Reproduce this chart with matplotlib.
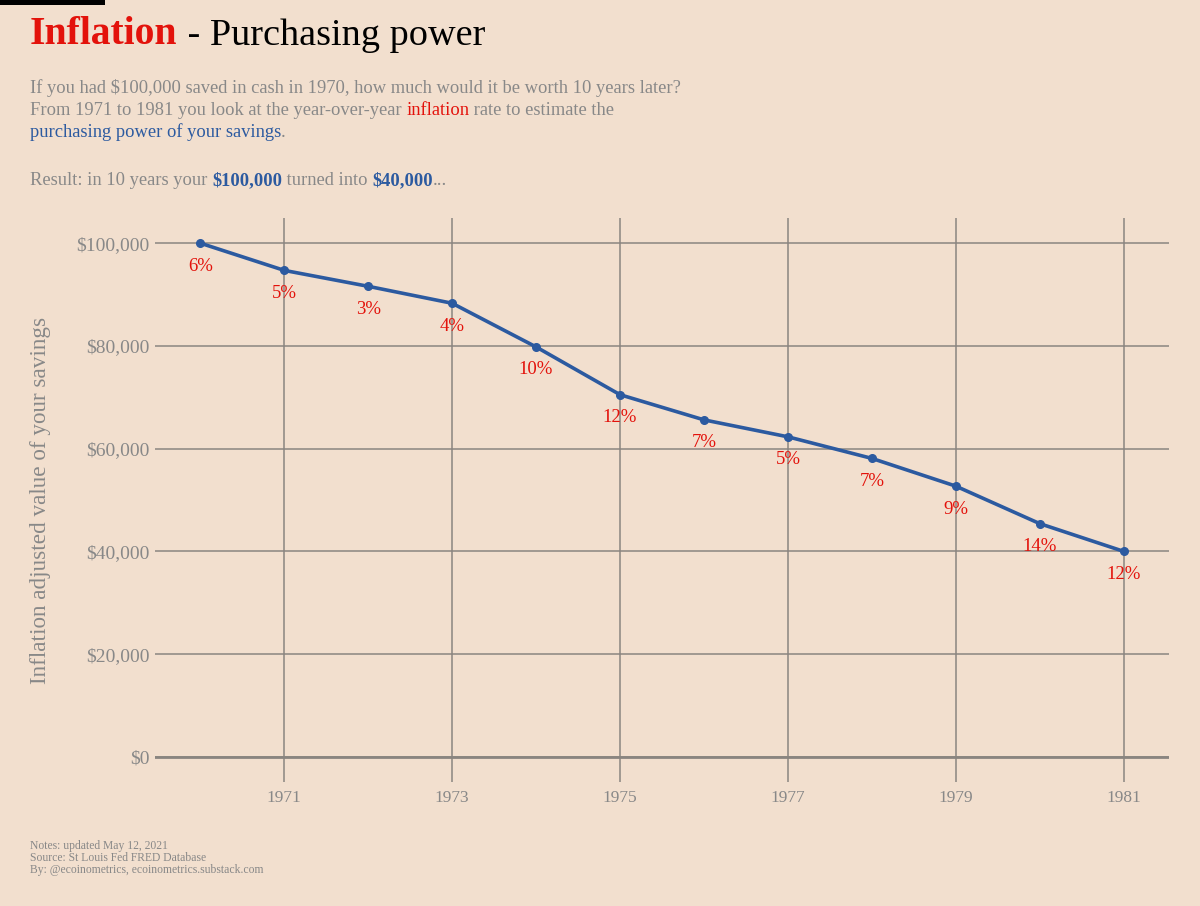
import matplotlib
matplotlib.use("Agg")
import matplotlib.pyplot as plt
from matplotlib.ticker import FuncFormatter

# ---- data ----
years = [1970, 1971, 1972, 1973, 1974, 1975, 1976, 1977, 1978, 1979, 1980, 1981]
savings_value = [100000, 94700, 91600, 88300, 79800, 70500, 65600, 62300, 58100, 52700, 45400, 40000]
inflation_labels = ['6%', '5%', '3%', '4%', '10%', '12%', '7%', '5%', '7%', '9%', '14%', '12%']
x_ticks = [1971, 1973, 1975, 1977, 1979, 1981]
y_ticks = [0, 20000, 40000, 60000, 80000, 100000]

# ---- style ----
BG = '#F2DFCE'
RED = '#E3120B'
BLUE = '#2C5AA0'
GRAY = '#888888'
GRID = '#8A8580'
FONT = 'Liberation Serif'
plt.rcParams['font.family'] = [FONT, 'DejaVu Serif']

W, H = 1200, 906
fig = plt.figure(figsize=(W / 100, H / 100), dpi=100, facecolor=BG)
overlay = fig.add_axes([0, 0, 1, 1])
overlay.set_xlim(0, W)
overlay.set_ylim(H, 0)
overlay.axis('off')

# top-left black bar
overlay.add_patch(plt.Rectangle((0, 0), 105, 5, color='black', lw=0))


def rich(x, y, parts, size):
    """parts: list of (text, color, weight, size); drawn chained on one baseline."""
    s, c, w = parts[0][:3]
    sz = parts[0][3] if len(parts[0]) > 3 else size
    t = overlay.text(x, y, s, color=c, fontsize=sz, fontweight=w,
                     ha='left', va='baseline')
    for p in parts[1:]:
        s, c, w = p[:3]
        sz = p[3] if len(p) > 3 else size
        t = overlay.annotate(s, xy=(1, 0), xycoords=t, xytext=(0, 0),
                             textcoords='offset points', color=c,
                             fontsize=sz, fontweight=w, ha='left', va='bottom')
    return t


# title
rich(30, 44, [('Inflation', RED, 'bold', 28.5), (' - Purchasing power', 'black', 'normal', 27.5)], 27.5)

# subtitle
SUB = 13.3
rich(30, 93, [('If you had $100,000 saved in cash in 1970, how much would it be worth 10 years later?', GRAY, 'normal')], SUB)
rich(30, 115, [('From 1971 to 1981 you look at the year-over-year ', GRAY, 'normal'),
               ('inflation', RED, 'normal'),
               (' rate to estimate the', GRAY, 'normal')], SUB)
rich(30, 137, [('purchasing power of your savings', BLUE, 'normal'), ('.', GRAY, 'normal')], SUB)
rich(30, 185, [('Result: in 10 years your ', GRAY, 'normal'),
               ('$100,000', BLUE, 'bold'),
               (' turned into ', GRAY, 'normal'),
               ('$40,000', BLUE, 'bold'),
               ('...', GRAY, 'normal')], SUB)

# footer
FOOT = 8.4
overlay.text(30, 849, 'Notes: updated May 12, 2021', color=GRAY, fontsize=FOOT, va='baseline')
overlay.text(30, 861, 'Source: St Louis Fed FRED Database', color=GRAY, fontsize=FOOT, va='baseline')
overlay.text(30, 873, 'By: @ecoinometrics, ecoinometrics.substack.com', color=GRAY, fontsize=FOOT, va='baseline')

# y-axis label
overlay.text(41, 500, 'Inflation adjusted value of your savings', color=GRAY,
             fontsize=16.7, rotation=90, ha='center', va='center')

# ---- main axes ----
left, right, top, bottom = 155, 1169, 218, 782
ax = fig.add_axes([left / W, 1 - bottom / H, (right - left) / W, (bottom - top) / H])
ax.set_facecolor('none')
ax.set_xlim(1969.46, 1981.54)
ax.set_ylim(-4900, 104900)
ax.set_xticks(x_ticks)
ax.set_yticks(y_ticks)
ax.yaxis.set_major_formatter(FuncFormatter(lambda v, p: '${:,.0f}'.format(v)))
ax.grid(True, color=GRID, lw=1.1)
ax.set_axisbelow(True)
ax.axhline(0, color=GRID, lw=2.0, zorder=1)
for sp in ax.spines.values():
    sp.set_visible(False)
ax.tick_params(axis='both', length=0, colors=GRAY)
ax.tick_params(axis='y', pad=4, labelsize=14)
ax.tick_params(axis='x', pad=6, labelsize=12.5)

ax.plot(years, savings_value, color=BLUE, lw=2.6, marker='o', ms=5.5, zorder=3)
for xv, yv, lab in zip(years, savings_value, inflation_labels):
    ax.annotate(lab, xy=(xv, yv), xytext=(0, -16.5), textcoords='offset points',
                ha='center', va='center', color=RED, fontsize=13.5, zorder=4)

fig.savefig('out.png', dpi=100, facecolor=BG)
